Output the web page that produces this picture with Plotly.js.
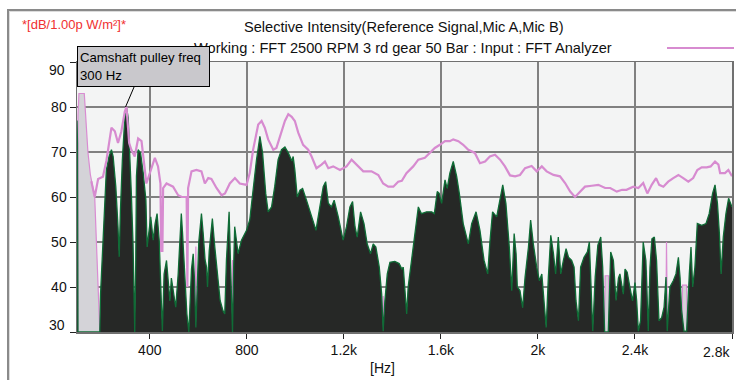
<!DOCTYPE html>
<html>
<head>
<meta charset="utf-8">
<script src="https://cdn.plot.ly/plotly-3.0.1.min.js"></script>
<style>
  html, body { margin: 0; padding: 0; background: #ffffff; }
  #wrap { position: relative; width: 736px; height: 380px; overflow: hidden; }
  #chart { position: absolute; left: 0; top: 0; width: 736px; height: 380px; }
  #frame { position: absolute; left: 7px; top: 9px; width: 740px; height: 380px;
           border-top: 2px solid #8a8a8a; border-left: 2px solid #8a8a8a;
           box-shadow: inset 1px 1px 0 #dcdcdc; pointer-events: none; }
</style>
</head>
<body>
<div id="wrap"><div id="chart"></div><div id="frame"></div></div>
<script>
// ---- data ----
const xTickVals = [400, 800, 1200, 1600, 2000, 2400, 2800];
const xTickText = ["400", "800", "1.2k", "1.6k", "2k", "2.4k", "2.8k"];
const yTickVals = [30, 40, 50, 60, 70, 80, 90];
const yTickText = ["30", "40", "50", "60", "70", "80", "90"];

// Mic spectrum (dark filled)
const darkFreq = [100,102,104,194,197,203,208,214,221,232,242,249,260,269,274,279,287,297,304,311,318,324,331,335,338,342,345,352,362,373,384,389,396,404,414,422,430,439,444,452,459,469,476,483,489,499,507,517,524,530,535,541,548,553,561,566,572,579,584,590,596,602,608,613,620,628,634,638,645,652,658,668,680,690,702,709,716,722,727,733,737,741,746,750,758,764,778,799,812,826,840,854,865,878,888,902,915,929,943,957,971,986,991,998,1008,1019,1030,1046,1067,1085,1101,1115,1125,1136,1149,1160,1177,1197,1211,1225,1236,1246,1255,1269,1283,1296,1310,1321,1332,1346,1356,1362,1369,1379,1390,1410,1428,1439,1445,1452,1459,1465,1479,1493,1507,1520,1541,1562,1573,1585,1593,1603,1617,1626,1637,1651,1665,1676,1692,1713,1727,1745,1761,1778,1793,1802,1813,1830,1844,1855,1868,1882,1892,1902,1910,1915,1926,1937,1947,1961,1970,1981,1995,2006,2016,2022,2034,2043,2053,2064,2073,2084,2094,2105,2116,2126,2139,2149,2157,2167,2176,2190,2204,2212,2219,2226,2236,2247,2259,2267,2275,2290,2300,2311,2322,2332,2338,2352,2359,2368,2379,2390,2400,2407,2414,2423,2434,2445,2455,2462,2470,2480,2489,2499,2510,2520,2528,2533,2544,2558,2569,2579,2586,2592,2602,2613,2624,2631,2638,2647,2657,2675,2693,2706,2720,2730,2740,2748,2755,2764,2775,2786,2800];
const darkLevel = [77,72,30,30,38.4,46,52.6,60.8,66,69,70.5,69,62.3,53.4,46.7,57,68.3,77.6,79.9,77.6,69.8,60.8,49.6,40,30,45,64.6,70.5,69.8,65.3,59.3,48.9,51.9,55.6,50.4,54.1,56.3,50.4,42.2,30.2,42.9,45.9,41.4,36.9,42,38.4,35.5,42.9,50,56.3,52,45,38,34,30,38,44,47.4,42,31,42,50,53.4,56.3,52,46,44.4,40,48,53,55.2,48.9,42.2,37,34.7,34,46,52.6,56.7,45,38,30,45,53.4,50,47.4,50.4,52.6,54.9,62.3,68.3,73.5,69.8,60.8,56.7,57.8,62.3,68.3,70.5,71.1,69.8,68,69,66,60,61.5,61.9,59.3,55.6,52.6,57.8,62.3,63.4,58.6,57.8,59.3,55.6,50.4,53.4,57.8,59,53.4,51.1,56.7,54.1,49.6,47.4,49.6,48.9,44.4,38.4,30.2,36.9,42.9,45.5,45.7,45.2,44,44.4,39.2,34,40,45.9,52.6,57.8,56.3,56.7,56.7,56.3,61.2,60.8,58.6,63.8,61.9,65.3,67.9,64.6,60.8,54.1,49.6,54.1,56.7,52.6,45.9,42.9,50,56.7,55.6,60,62.7,58.6,48.9,39.2,51.9,47.4,40,39.2,35.4,42.2,48.9,54.9,49.6,44.4,41.4,42.9,38.4,31,42.2,51.5,47.4,42.9,51.1,42.9,45.9,48.5,46.6,45.9,44.4,36.9,32.5,44.4,46.6,47.8,50,38.4,30.2,42.2,49.3,51.1,44.4,30,30,47.8,45.9,37,42,42.9,38.4,44,43.3,40,36.9,41,37,30.2,32.5,50,45.9,30.2,44.4,50.7,51.1,45.9,32.5,33.2,35.5,42.2,30.2,40,41.4,42.9,46.6,42,35,30.2,30.2,42.9,48.9,40,44.4,54.1,53.7,54.1,56.3,60.8,62.7,58.6,51.9,42.9,51.1,56.3,59.7,57.8];

// Second spectrum (light grey fill, pink edge)
const grayFreq = [100,103,104,108,130,137,145,155,163,173,180,187,194,587,590,593,738,741,744,1359,1362,1365,2274,2277,2292,2295,2445,2448,2451,2527,2530,2534,2593,2596,2613,2616,2800];
const grayLevel = [30,30,78,83,83,76,70,65,63,60,50,40,30,30,49,30,30,46,30,30,38,30,30,42.5,42.5,30,30,43.7,30,30,50,30,30,40.4,40.4,30,30];

// Selective intensity (pink line)
const pinkFreq = [159,173,187,207,221,242,256,269,283,297,304,315,324,338,352,366,386,400,421,434,444,447,452,455,469,496,517,532,545,552,555,558,572,592,613,627,641,654,675,696,710,730,751,771,799,812,826,847,861,874,888,909,922,936,957,971,985,998,1012,1032,1053,1067,1087,1108,1122,1136,1156,1184,1211,1232,1252,1280,1314,1342,1362,1383,1404,1424,1439,1458,1486,1507,1534,1555,1575,1596,1617,1637,1651,1672,1692,1713,1740,1761,1782,1802,1823,1844,1864,1885,1906,1926,1947,1974,1995,2016,2036,2064,2091,2112,2133,2153,2174,2194,2222,2249,2277,2298,2325,2347,2365,2393,2414,2434,2451,2469,2487,2500,2517,2537,2558,2579,2599,2620,2640,2657,2675,2696,2712,2730,2744,2751,2771,2785,2800];
const pinkLevel = [63.5,60,64,64.5,68,75.4,74.6,72,74.6,79,80,72,70.5,69,73,72.4,63,65.3,68.7,66.8,63,48,48,62,63,62.3,60.4,60,60,60,40,62,65.7,66,65.7,63,64.2,64,62,60.4,60.8,63,64.2,63,62.7,65.3,70.5,76.1,76.9,75.4,72.8,70.5,70.9,73.5,76.9,78.4,77.8,76.9,74.3,71.6,70.5,69,66.4,67.2,67.9,66.4,66.8,66,66.8,68.3,67.2,65.7,65.7,64.9,63,62.3,62.3,63.4,63.6,65.3,66.8,68.3,68.7,69.8,70.9,71.6,72.4,72.4,72.8,72.4,71.6,70.5,69.8,67.5,67.9,69,69.4,68.3,66.8,64.8,64.6,64.9,66.4,66.9,65.7,66.8,65.7,64.9,64.6,63.1,61.2,60,61.2,62.3,62.5,62.7,62,62,61.2,61.6,61.6,62.3,62,63.1,60.8,62.7,64.2,62.7,62.3,63.4,64.2,64.9,64.2,63.4,64.2,66,66.6,66.6,66.8,67.9,67.2,65.3,65.3,66,64.6];

const titleText = "Selective Intensity(Reference Signal,Mic A,Mic B)";
const subtitleText = "Working : FFT 2500 RPM 3 rd gear 50 Bar : Input : FFT Analyzer";
const unitText = "*[dB/1.00p W/m²]*";
const noteText = "Camshaft pulley freq<br>300 Hz";
const noteFreq = 300, noteLevel = 80;

// ---- drawing ----
const FONT = "Liberation Sans, Arial, sans-serif";
const FS = 14;
const L = 77, R = 4, T = 62, B = 48, W = 736, H = 380;
const pw = W - L - R, ph = H - T - B;
const px = x => (x - L) / pw;            // pixel -> paper x
const py = y => (H - B - y) / ph;        // pixel -> paper y

const traces = [
  { x: grayFreq, y: grayLevel, type: "scatter", mode: "lines", fill: "tozeroy",
    fillcolor: "#d4d3d8", line: { color: "#d98cd2", width: 1.2 }, hoverinfo: "skip" },
  { x: darkFreq, y: darkLevel, type: "scatter", mode: "lines", fill: "tozeroy",
    fillcolor: "#262826", line: { color: "#0f6c36", width: 1.3 }, hoverinfo: "skip" },
  { x: pinkFreq, y: pinkLevel, type: "scatter", mode: "lines",
    line: { color: "#d78bd0", width: 2.2 }, hoverinfo: "skip" }
];

const yText = yTickText.map((t, i) => (i === 0 || i === yTickText.length - 1) ? "" : t);
const xText = xTickText.map((t, i) => i === xTickText.length - 1 ? "" : t);
const txt = (size, color) => ({ family: FONT, size: size, color: color || "#111" });

const annotations = [
  { xref: "paper", yref: "paper", x: px(20), y: py(25), xanchor: "left", yanchor: "middle",
    text: unitText, showarrow: false, font: txt(13, "#f03030") },
  { xref: "paper", yref: "paper", x: px(404), y: py(27), xanchor: "center", yanchor: "middle",
    text: titleText, showarrow: false, font: txt(14.6) },
  { xref: "paper", yref: "paper", x: px(403), y: py(48), xanchor: "center", yanchor: "middle",
    text: subtitleText, showarrow: false, font: txt(14.6) },
  { xref: "paper", yref: "paper", x: px(382), y: py(368), xanchor: "center", yanchor: "middle",
    text: "[Hz]", showarrow: false, font: txt(FS) },
  { xref: "x", yref: "paper", x: xTickVals[xTickVals.length - 1], y: py(352), xanchor: "right", yanchor: "middle",
    text: xTickText[xTickText.length - 1], showarrow: false, font: txt(FS) },
  { xref: "paper", yref: "y", x: px(67), y: yTickVals[yTickVals.length - 1], xanchor: "right", yanchor: "middle", yshift: -8,
    text: yTickText[yTickText.length - 1], showarrow: false, font: txt(FS) },
  { xref: "paper", yref: "y", x: px(67), y: yTickVals[0], xanchor: "right", yanchor: "middle", yshift: 7,
    text: yTickText[0], showarrow: false, font: txt(FS) },
  { xref: "x", yref: "y", x: noteFreq, y: noteLevel, text: noteText, showarrow: true,
    arrowhead: 0, arrowwidth: 1, arrowcolor: "#000", ax: 17.5, ay: -41,
    align: "left", width: 127, height: 35, borderpad: 2, borderwidth: 1, bordercolor: "#000",
    bgcolor: "#c9c8cc", font: txt(13.2, "#000") }
];

const shapes = [
  { type: "line", xref: "paper", yref: "paper", x0: px(667), x1: px(734), y0: py(48), y1: py(48),
    line: { color: "#d78bd0", width: 2 } }
];

const layout = {
  width: W, height: H,
  margin: { l: L, r: R, t: T, b: B, pad: 0 },
  paper_bgcolor: "#ffffff", plot_bgcolor: "#f3f4f4",
  showlegend: false, hovermode: false,
  font: txt(FS),
  xaxis: {
    range: [100, 2800], tickvals: xTickVals, ticktext: xText,
    ticks: "outside", ticklen: 5, tickwidth: 1, tickcolor: "#222",
    showgrid: true, gridcolor: "#808080", gridwidth: 1.5,
    showline: true, linecolor: "#707070", linewidth: 1.5, mirror: true, zeroline: false,
    tickfont: txt(FS)
  },
  yaxis: {
    range: [30, 90], tickvals: yTickVals, ticktext: yText,
    ticks: "outside", ticklen: 6, tickwidth: 1, tickcolor: "#222",
    showgrid: true, gridcolor: "#808080", gridwidth: 1.5,
    showline: true, linecolor: "#707070", linewidth: 1.5, mirror: true, zeroline: false,
    tickfont: txt(FS)
  },
  annotations: annotations,
  shapes: shapes
};

Plotly.newPlot("chart", traces, layout, { staticPlot: true, displayModeBar: false });
</script>
</body>
</html>
